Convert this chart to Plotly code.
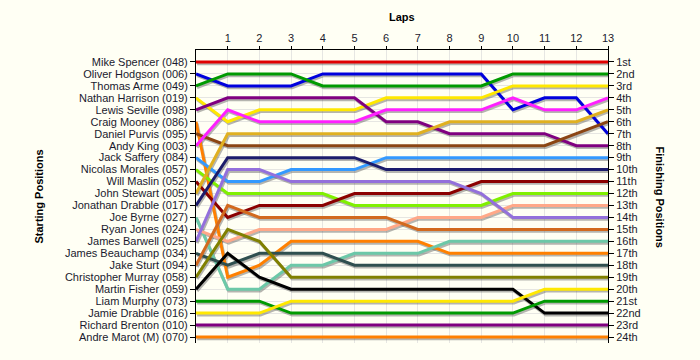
import plotly.graph_objects as go

laps = list(range(0, 14))

drivers = [
    "Mike Spencer (048)", "Oliver Hodgson (006)", "Thomas Arme (049)", "Nathan Harrison (019)",
    "Lewis Seville (098)", "Craig Mooney (086)", "Daniel Purvis (095)", "Andy King (003)",
    "Jack Saffery (084)", "Nicolas Morales (057)", "Will Maslin (052)", "John Stewart (005)",
    "Jonathan Drabble (017)", "Joe Byrne (027)", "Ryan Jones (024)", "James Barwell (025)",
    "James Beauchamp (034)", "Jake Sturt (094)", "Christopher Murray (058)", "Martin Fisher (059)",
    "Liam Murphy (073)", "Jamie Drabble (016)", "Richard Brenton (010)", "Andre Marot (M) (070)",
]

finish_labels = ["1st", "2nd", "3rd"] + [f"{i}th" for i in range(4, 21)] + ["21st", "22nd", "23rd", "24th"]

# position of each driver at laps 0..13
mike_spencer = [1, 1, 1, 1, 1, 1, 1, 1, 1, 1, 1, 1, 1, 1]
oliver_hodgson = [2, 3, 3, 3, 2, 2, 2, 2, 2, 2, 5, 4, 4, 7]
thomas_arme = [3, 2, 2, 2, 3, 3, 3, 3, 3, 3, 2, 2, 2, 2]
nathan_harrison = [4, 6, 5, 5, 5, 5, 4, 4, 4, 4, 3, 3, 3, 3]
lewis_seville = [5, 4, 4, 4, 4, 4, 6, 6, 7, 7, 7, 7, 8, 8]
craig_mooney = [6, 19, 18, 16, 16, 16, 16, 16, 17, 17, 17, 17, 17, 17]
daniel_purvis = [7, 8, 8, 8, 8, 8, 8, 8, 8, 8, 8, 8, 7, 6]
andy_king = [8, 5, 6, 6, 6, 6, 5, 5, 5, 5, 4, 5, 5, 4]
jack_saffery = [9, 11, 11, 10, 10, 10, 9, 9, 9, 9, 9, 9, 9, 9]
nicolas_morales = [10, 12, 12, 12, 12, 13, 13, 13, 13, 13, 12, 12, 12, 12]
will_maslin = [11, 14, 13, 13, 13, 12, 12, 12, 12, 11, 11, 11, 11, 11]
john_stewart = [12, 7, 7, 7, 7, 7, 7, 7, 6, 6, 6, 6, 6, 5]
jonathan_drabble = [13, 9, 9, 9, 9, 9, 10, 10, 10, 10, 10, 10, 10, 10]
joe_byrne = [14, 20, 20, 18, 18, 17, 17, 17, 16, 16, 16, 16, 16, 16]
ryan_jones = [15, 16, 15, 15, 15, 15, 15, 14, 14, 14, 13, 13, 13, 13]
james_barwell = [16, 10, 10, 11, 11, 11, 11, 11, 11, 12, 14, 14, 14, 14]
james_beauchamp = [17, 18, 17, 17, 17, 18, 18, 18, 18, 18, 18, 18, 18, 18]
jake_sturt = [18, 13, 14, 14, 14, 14, 14, 15, 15, 15, 15, 15, 15, 15]
christopher_murray = [19, 15, 16, 19, 19, 19, 19, 19, 19, 19, 19, 19, 19, 19]
martin_fisher = [20, 17, 19, 20, 20, 20, 20, 20, 20, 20, 20, 22, 22, 22]
liam_murphy = [21, 21, 21, 22, 22, 22, 22, 22, 22, 22, 22, 21, 21, 21]
jamie_drabble = [22, 22, 22, 21, 21, 21, 21, 21, 21, 21, 21, 20, 20, 20]
richard_brenton = [23, 23, 23, 23, 23, 23, 23, 23, 23, 23, 23, 23, 23, 23]
andre_marot = [24, 24, 24, 24, 24, 24, 24, 24, 24, 24, 24, 24, 24, 24]

colors = [
    "#E00000", "#0000DD", "#009A00", "#FFE800", "#800080", "#FF8000", "#8B4513", "#FF20FF",
    "#3399FF", "#80F000", "#8B0000", "#E0B020", "#1C1C6C", "#6CC8A8", "#FFA888", "#9370DB",
    "#2F4F4F", "#D2691E", "#808000", "#000000", "#009A00", "#FFE800", "#800080", "#FF8000",
]

series = [
    mike_spencer, oliver_hodgson, thomas_arme, nathan_harrison, lewis_seville, craig_mooney,
    daniel_purvis, andy_king, jack_saffery, nicolas_morales, will_maslin, john_stewart,
    jonathan_drabble, joe_byrne, ryan_jones, james_barwell, james_beauchamp, jake_sturt,
    christopher_murray, martin_fisher, liam_murphy, jamie_drabble, richard_brenton, andre_marot,
]

bg = "#FFFFF4"
font_family = "Liberation Sans, Arial, sans-serif"
fig = go.Figure()

# shadows
for name, pos in zip(drivers, series):
    fig.add_trace(go.Scatter(
        x=[l + 0.035 for l in laps], y=[p + 0.15 for p in pos], mode="lines",
        line=dict(color="rgba(90,90,90,0.45)", width=3), hoverinfo="skip", showlegend=False,
    ))

for name, pos, c in zip(drivers, series, colors):
    fig.add_trace(go.Scatter(
        x=laps, y=pos, mode="lines", name=name,
        line=dict(color=c, width=3), showlegend=False,
    ))

# helper invisible trace for right axis
fig.add_trace(go.Scatter(x=[0], y=[1], yaxis="y2", mode="markers",
                         marker=dict(opacity=0), hoverinfo="skip", showlegend=False))

tick_font = dict(family=font_family, size=11, color="#1a1a2e")

fig.update_layout(
    width=700, height=360,
    margin=dict(l=196, r=92, t=50, b=17),
    paper_bgcolor=bg, plot_bgcolor=bg,
    xaxis=dict(
        range=[0, 13], side="top", tickvals=list(range(1, 14)),
        showgrid=True, gridcolor="#E6E6E2", gridwidth=1, zeroline=False,
        showline=True, linecolor="black", linewidth=1,
        ticks="outside", ticklen=3, tickcolor="black", tickfont=tick_font,
    ),
    yaxis=dict(
        range=[24.5, 0], tickvals=list(range(1, 25)), ticktext=drivers,
        showgrid=True, gridcolor="#E6E6E2", gridwidth=1, zeroline=False,
        showline=True, linecolor="black", linewidth=1,
        ticks="outside", ticklen=5, tickcolor="black", tickfont=tick_font,
    ),
    yaxis2=dict(
        range=[24.5, 0], tickvals=list(range(1, 25)), ticktext=finish_labels,
        overlaying="y", side="right", showgrid=False, zeroline=False,
        showline=True, linecolor="black", linewidth=1,
        ticks="outside", ticklen=5, tickcolor="black", tickfont=tick_font,
    ),
    annotations=[
        dict(text="<b>Laps</b>", xref="paper", yref="paper", x=0.5, y=1,
             yanchor="middle", yshift=33, showarrow=False,
             font=dict(family=font_family, size=11, color="black")),
        dict(text="<b>Starting Positions</b>", xref="paper", yref="paper", x=0, y=0.5,
             xshift=-166, textangle=-90, showarrow=False,
             font=dict(family=font_family, size=11, color="black")),
        dict(text="<b>Finishing Positions</b>", xref="paper", yref="paper", x=1, y=0.5,
             xshift=60, textangle=90, showarrow=False,
             font=dict(family=font_family, size=11, color="black")),
    ],
)

fig.write_html("out.html")
